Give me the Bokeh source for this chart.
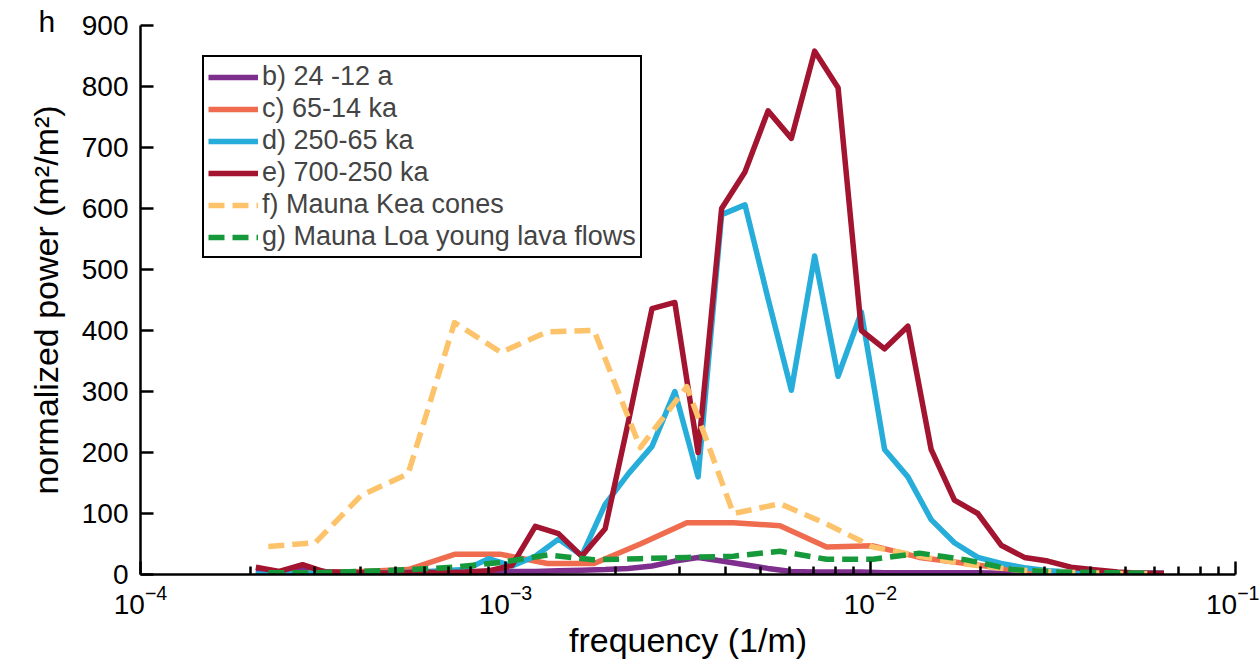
from bokeh.plotting import figure
from bokeh.models import Range1d, FixedTicker, LogTickFormatter
from bokeh.embed import file_html
from bokeh.resources import INLINE

# frequency grids (1/m)
freq_fine = [2.07e-4, 2.40e-4, 2.78e-4, 3.21e-4, 3.72e-4, 4.32e-4, 5.00e-4, 5.79e-4,
             6.70e-4, 7.76e-4, 8.99e-4, 1.042e-3, 1.207e-3, 1.397e-3, 1.618e-3, 1.875e-3,
             2.17e-3, 2.52e-3, 2.91e-3, 3.37e-3, 3.91e-3, 4.53e-3, 5.24e-3, 6.07e-3,
             7.03e-3, 8.15e-3, 9.44e-3, 1.093e-2, 1.266e-2, 1.466e-2, 1.698e-2, 1.968e-2,
             2.28e-2, 2.64e-2, 3.06e-2, 3.54e-2, 4.10e-2, 4.75e-2, 5.50e-2, 6.37e-2]
freq_coarse = [2.24e-4, 3.01e-4, 4.03e-4, 5.41e-4, 7.25e-4, 9.72e-4, 1.303e-3, 1.748e-3,
               2.34e-3, 3.14e-3, 4.21e-3, 5.65e-3, 7.58e-3, 1.016e-2, 1.362e-2, 1.827e-2,
               2.45e-2, 3.28e-2, 4.40e-2, 5.91e-2]

# normalized power series
b_24_12a = [5, 4, 8, 5, 4, 3, 1, 0, 1, 2, 4, 5, 5, 6, 7, 8, 10, 14, 22, 28,
            22, 16, 10, 5, 4, 4, 4, 3, 3, 3, 3, 3, 2, 2, 2, 2, 2, 2, 2, 2]
d_250_65ka = [1, 1, 2, 2, 2, 3, 3, 4, 6, 8, 26, 14, 30, 58, 31, 115, 165, 210, 300, 160,
              590, 606, 452, 302, 522, 325, 430, 205, 160, 90, 52, 28, 18, 11, 6, 4, 3, 2, 2, 2]
e_700_250ka = [12, 5, 16, 4, 3, 3, 2, 4, 3, 4, 6, 15, 79, 67, 30, 75, 250, 436, 446, 200,
               600, 660, 760, 715, 858, 798, 400, 370, 407, 205, 122, 100, 48, 28, 22, 12, 8, 4, 2, 2]
c_65_14ka = [3, 3, 5, 8, 33, 33, 18, 18, 50, 85, 85, 80, 45, 47, 28, 18, 8, 4, 2, 2]
f_mk_cones = [46, 52, 130, 165, 413, 364, 398, 400, 208, 308, 100, 116, 83, 45, 30, 17, 8, 4, 2, 1]
g_ml_flows = [3, 3, 5, 8, 12, 20, 32, 24, 26, 28, 30, 38, 25, 25, 35, 24, 8, 4, 3, 2]

labels = ["b) 24 -12 a", "c) 65-14 ka", "d) 250-65 ka", "e) 700-250 ka",
          "f) Mauna Kea cones", "g) Mauna Loa young lava flows"]
colors = ["#7E2F8E", "#EF6C4F", "#27ADDA", "#A2142F", "#FDC36A", "#16993A"]
panel_letter = "h"

FONT = "Liberation Sans"

p = figure(width=1259, height=665, x_axis_type="log",
           x_range=Range1d(1e-4, 1e-1), y_range=Range1d(0, 900),
           output_backend="svg", toolbar_location=None, title=panel_letter,
           min_border_left=140, min_border_right=24, min_border_top=25, min_border_bottom=91)
p.outline_line_color = None
p.grid.visible = False
p.background_fill_color = "white"
p.border_fill_color = "white"

# panel letter as a compact title in the top-left corner
p.title.align = "left"
p.title.offset = -102
p.title.standoff = -24
p.title.text_font = FONT
p.title.text_font_size = "30px"
p.title.text_font_style = "normal"
p.title.text_color = "black"

series = [(freq_fine, b_24_12a, None), (freq_coarse, c_65_14ka, None),
          (freq_fine, d_250_65ka, None), (freq_fine, e_700_250ka, None),
          (freq_coarse, f_mk_cones, "16 8"), (freq_coarse, g_ml_flows, "16 8")]
for (fx, fy, dash), lab, col in zip(series, labels, colors):
    kw = dict(line_width=5.5, color=col, legend_label=lab, line_join="round")
    if dash:
        kw["line_dash"] = dash
    p.line(fx, fy, **kw)

# axes
xa = p.xaxis[0]
xa.ticker = FixedTicker(ticks=[1e-4, 1e-3, 1e-2, 1e-1],
                        minor_ticks=[m * 10.0 ** e for e in (-4, -3, -2) for m in range(2, 10)])
xa.formatter = LogTickFormatter()
ya = p.yaxis[0]
ya.ticker = FixedTicker(ticks=list(range(0, 1000, 100)))
for ax in (xa, ya):
    ax.axis_line_width = 2.5
    ax.axis_line_color = "black"
    ax.major_tick_line_width = 2.5
    ax.minor_tick_line_width = 2.5
    ax.major_tick_in = 13
    ax.major_tick_out = 0
    ax.minor_tick_in = 8
    ax.minor_tick_out = 0
    ax.major_label_text_font = FONT
    ax.major_label_text_font_size = "28px"
    ax.major_label_text_color = "black"
    ax.axis_label_text_font = FONT
    ax.axis_label_text_font_size = "34px"
    ax.axis_label_text_font_style = "normal"
    ax.axis_label_text_color = "black"
ya.minor_tick_in = 0
xa.axis_label = "frequency (1/m)"
ya.axis_label = "normalized power (m\u00b2/m\u00b2)"
xa.major_label_standoff = 10
ya.major_label_standoff = 12
xa.axis_label_standoff = 4
ya.axis_label_standoff = 14

# legend
lg = p.legend[0]
lg.location = (62, 316)
lg.label_text_font = FONT
lg.label_text_font_size = "27px"
lg.glyph_width = 50
lg.glyph_height = 26
lg.label_height = 26
lg.label_standoff = 4
lg.spacing = 1
lg.padding = 4
lg.margin = 0
lg.border_line_color = "black"
lg.border_line_width = 2
lg.border_line_alpha = 1
lg.background_fill_alpha = 1

open("out.html", "w").write(file_html(p, INLINE))
